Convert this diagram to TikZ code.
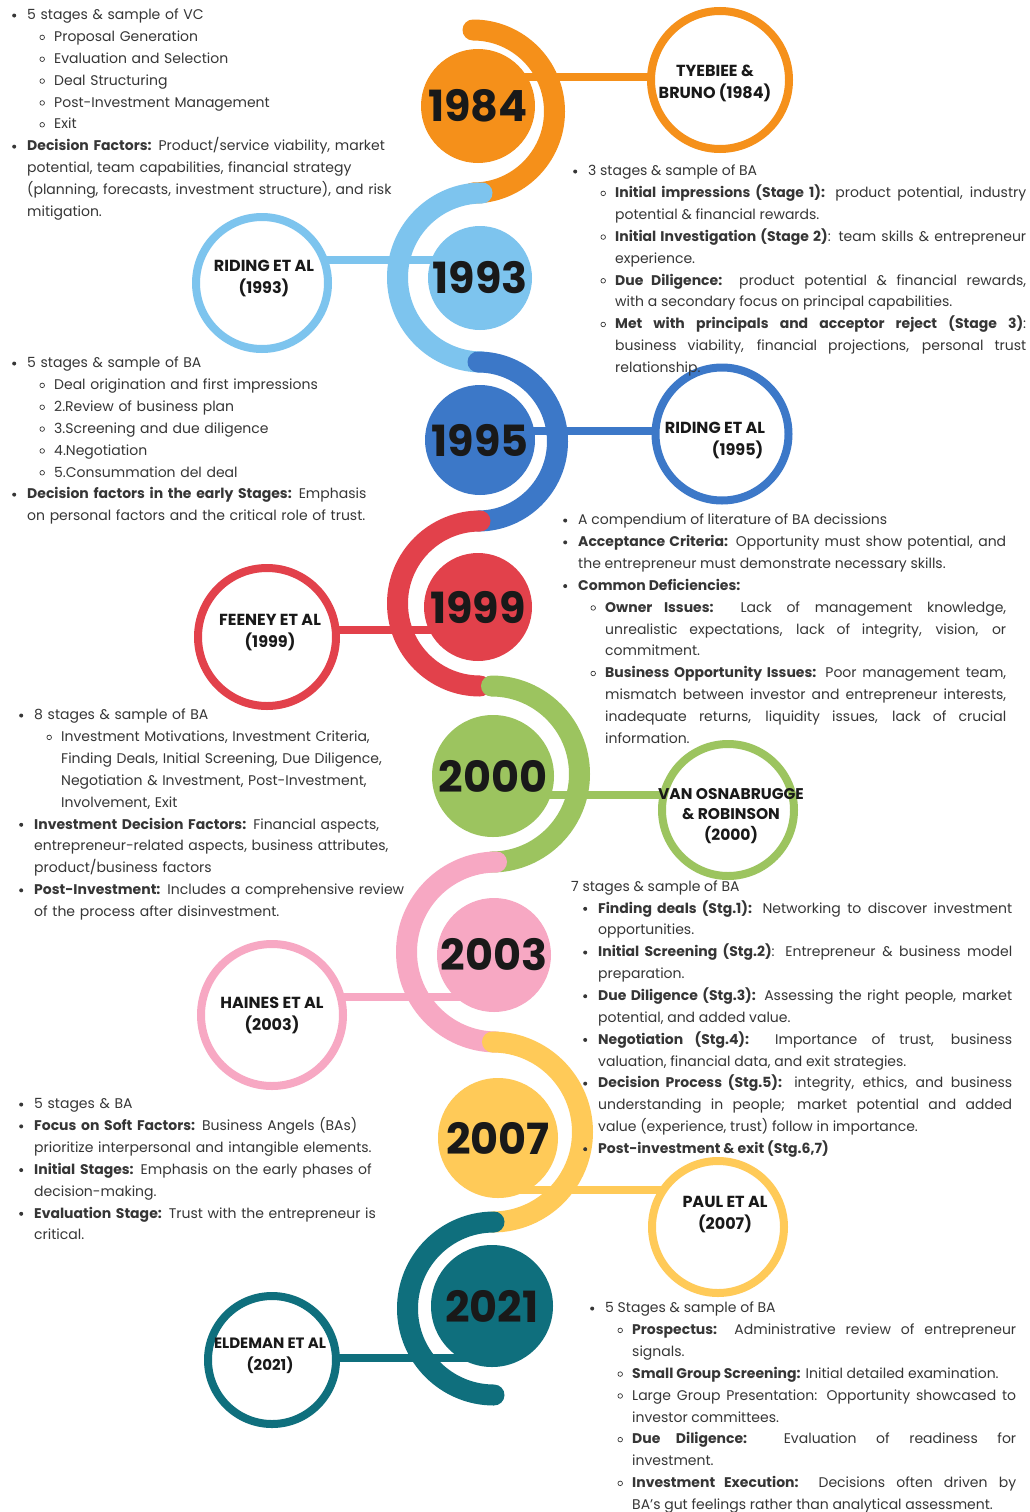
\documentclass[tikz,border=0pt]{standalone}
\usepackage{fontspec}
\setmainfont{Poppins}
\usepackage{enumitem}
\usetikzlibrary{backgrounds}

\definecolor{c84}{HTML}{F5901A}
\definecolor{c93}{HTML}{7DC4EE}
\definecolor{c95}{HTML}{3C78C8}
\definecolor{c99}{HTML}{E2414B}
\definecolor{c00}{HTML}{9CC45F}
\definecolor{c03}{HTML}{F7A8C3}
\definecolor{c07}{HTML}{FFCA58}
\definecolor{c21}{HTML}{0F6F7D}
\definecolor{ink}{HTML}{363636}

\hyphenpenalty=10000
\exhyphenpenalty=10000

\newcommand{\dotmark}{\strut\makebox[0pt][c]{\tikz[baseline=-0.55ex]\fill (0,0) circle (2pt);}}
\newcommand{\ringmark}{\strut\makebox[0pt][c]{\tikz[baseline=-0.55ex]\draw[line width=0.7pt] (0,0) circle (2.3pt);}}
\setlist[itemize,1]{label=\dotmark,leftmargin=13pt,labelwidth=0pt,labelsep=13pt,align=left,topsep=0pt,itemsep=0pt,parsep=0pt,partopsep=0pt}
\setlist[itemize,2]{label=\ringmark,leftmargin=27pt,labelwidth=0pt,labelsep=12pt,align=left,topsep=0pt,itemsep=0pt,parsep=0pt,partopsep=0pt}

\begin{document}
\begin{tikzpicture}[x=1pt,y=-1pt,
  band/.style={line width=21pt,line cap=round},
  link/.style={line width=8pt},
  year/.style={circle,inner sep=0pt,text=black!90,font=\fontsize{43}{43}\selectfont\bfseries},
  author/.style={circle,draw,line width=8pt,fill=white,inner sep=0pt},
  who/.style={align=center,inner sep=0pt,text=black!90,font=\fontsize{16}{22}\selectfont\bfseries},
  notes/.style={anchor=north west,inner sep=0pt,text=ink,font=\fontsize{14}{21.85}\selectfont},
  leftnotes/.style={notes,align=left,text width=420pt},
  rightnotes/.style={notes,align=justify}]
\useasboundingbox (0,0) rectangle (1029,1512);

\draw[band,c84] (473,30) arc[start angle=-90,end angle=90,radius=81.5];
\draw[band,c93] (482,193) arc[start angle=-90,end angle=-270,radius=84.5];
\draw[band,c95] (478,362) arc[start angle=-90,end angle=90,radius=79.5];
\draw[band,c99] (480,521) arc[start angle=-90,end angle=-270,radius=82.5];
\draw[band,c00] (491.5,686) arc[start angle=-90,end angle=90,radius=88];
\draw[band,c03] (496.5,862) arc[start angle=-90,end angle=-270,radius=90];
\draw[band,c07] (492.5,1042) arc[start angle=-90,end angle=90,radius=90];
\draw[band,c21] (494,1222) arc[start angle=-90,end angle=-270,radius=86.5];

\node[year,fill=c84,minimum size=114pt] (y84) at (478,106) {1984};
\node[year,fill=c93,minimum size=104pt] (y93) at (480,278) {1993};
\node[year,fill=c95,minimum size=110pt] (y95) at (480,440) {1995};
\node[year,fill=c99,minimum size=108pt] (y99) at (478,607) {1999};
\node[year,fill=c00,minimum size=122pt] (y00) at (493,776) {2000};
\node[year,fill=c03,minimum size=114pt] (y03) at (494,955) {2003};
\node[year,fill=c07,minimum size=120pt] (y07) at (498,1138) {2007};
\node[year,fill=c21,minimum size=122pt] (y21) at (492,1306) {2021};

\node[author,draw=c84,minimum size=138pt,label={[who,xshift=-5pt,yshift=-3pt]center:TYEBIEE \&\\BRUNO (1984)}] (au84) at (720,80) {};
\node[author,draw=c93,minimum size=132pt,label={[who,xshift=2pt,yshift=5pt]center:RIDING ET AL\\(1993)}] (au93) at (262,283) {};
\node[author,draw=c95,minimum size=133pt,label={[who,align=left,xshift=-7pt,yshift=-6pt]center:RIDING ET AL\\\hspace*{47pt}(1995)}] (au95) at (722,434) {};
\node[author,draw=c99,minimum size=138pt,label={[who,xshift=3pt,yshift=4pt]center:FEENEY ET AL\\(1999)}] (au99) at (267,637) {};
\node[author,draw=c00,minimum size=132pt,label={[who,font=\fontsize{15.5}{20.5}\selectfont\bfseries,xshift=3pt,yshift=-6pt]center:VAN OSNABRUGGE\\\& ROBINSON\\(2000)}] (au00) at (728,810) {};
\node[author,draw=c03,minimum size=142pt,label={[who]center:HAINES ET AL\\(2003)}] (au03) at (272,1015) {};
\node[author,draw=c07,minimum size=132pt,label={[who,xshift=7pt,yshift=12pt]center:PAUL ET AL\\(2007)}] (au07) at (718,1227) {};
\node[author,draw=c21,minimum size=128pt,label={[who,font=\fontsize{15}{22}\selectfont\bfseries,xshift=-2pt,yshift=4pt]center:ELDEMAN ET AL\\(2021)}] (au21) at (272,1360) {};

\begin{scope}[on background layer]
\fill[white] (0,0) rectangle (1029,1512);
\draw[link,c84] ([yshift=29pt]y84.center) -- ([yshift=3pt]au84.center);
\draw[link,c93] ([yshift=18pt]y93.center) -- ([yshift=23pt]au93.center);
\draw[link,c95] ([yshift=9pt]y95.center) -- ([yshift=3pt]au95.center);
\draw[link,c99] ([yshift=-23pt]y99.center) -- ([yshift=7pt]au99.center);
\draw[link,c00] ([yshift=-19pt]y00.center) -- ([yshift=15pt]au00.center);
\draw[link,c03] ([yshift=-42pt]y03.center) -- ([yshift=18pt]au03.center);
\draw[link,c07] ([yshift=-52pt]y07.center) -- ([yshift=37pt]au07.center);
\draw[link,c21] ([yshift=-52pt]y21.center) -- ([yshift=2pt]au21.center);
\end{scope}

\node[leftnotes] (n84) at (14,-2.3) {%
\begin{itemize}
\item 5 stages \& sample of VC
  \begin{itemize}
  \item Proposal Generation
  \item Evaluation and Selection
  \item Deal Structuring
  \item Post-Investment Management
  \item Exit
  \end{itemize}
\item \textbf{Decision Factors:} Product/service viability, market\\
potential, team capabilities, financial strategy\\
(planning, forecasts, investment structure), and risk\\
mitigation.
\end{itemize}};

\node[rightnotes,text width=451pt] (n84b) at (575,153.7) {%
\begin{itemize}
\item 3 stages \& sample of BA
  \begin{itemize}
  \item \textbf{Initial impressions (Stage 1):} product potential, industry\linebreak potential \& financial rewards.
  \item \textbf{Initial Investigation (Stage 2)}: team skills \& entrepreneur\linebreak experience.
  \item \textbf{Due Diligence:} product potential \& financial rewards,\linebreak with a secondary focus on principal capabilities.
  \item \textbf{Met with principals and acceptor reject (Stage 3)}:\linebreak business viability, financial projections, personal trust\linebreak relationship.
  \end{itemize}
\end{itemize}};

\node[leftnotes] (n95) at (14,345.7) {%
\begin{itemize}
\item 5 stages \& sample of BA
  \begin{itemize}
  \item Deal origination and first impressions
  \item 2.Review of business plan
  \item 3.Screening and due diligence
  \item 4.Negotiation
  \item 5.Consummation del deal
  \end{itemize}
\item \textbf{Decision factors in the early Stages:} Emphasis\\
on personal factors and the critical role of trust.
\end{itemize}};

\node[rightnotes,text width=441pt] (n99) at (565,502.7) {%
\begin{itemize}
\item A compendium of literature of BA decissions
\item \textbf{Acceptance Criteria:} Opportunity must show potential, and\linebreak the entrepreneur must demonstrate necessary skills.
\item \textbf{Common Deficiencies:}
  \begin{itemize}
  \item \textbf{Owner Issues:} Lack of management knowledge,\linebreak unrealistic expectations, lack of integrity, vision, or\linebreak commitment.
  \item \textbf{Business Opportunity Issues:} Poor management team,\linebreak mismatch between investor and entrepreneur interests,\linebreak inadequate returns, liquidity issues, lack of crucial\linebreak information.
  \end{itemize}
\end{itemize}};

\node[leftnotes] (n00) at (21,697.7) {%
\begin{itemize}
\item 8 stages \& sample of BA
  \begin{itemize}
  \item Investment Motivations, Investment Criteria,\\
  Finding Deals, Initial Screening, Due Diligence,\\
  Negotiation \& Investment, Post-Investment,\\
  Involvement, Exit
  \end{itemize}
\item \textbf{Investment Decision Factors:} Financial aspects,\\
entrepreneur-related aspects, business attributes,\\
product/business factors
\item \textbf{Post-Investment:} Includes a comprehensive review\\
of the process after disinvestment.
\end{itemize}};

\node[rightnotes,text width=441pt] (n03) at (571,875.7) {%
\strut 7 stages \& sample of BA\par
\begin{itemize}[leftmargin=27pt]
\item \textbf{Finding deals (Stg.1):} Networking to discover investment\linebreak opportunities.
\item \textbf{Initial Screening (Stg.2)}: Entrepreneur \& business model\linebreak preparation.
\item \textbf{Due Diligence (Stg.3):} Assessing the right people, market\linebreak potential, and added value.
\item \textbf{Negotiation (Stg.4):} Importance of trust, business\linebreak valuation, financial data, and exit strategies.
\item \textbf{Decision Process (Stg.5):} integrity, ethics, and business\linebreak understanding in people; market potential and added\linebreak value (experience, trust) follow in importance.
\item \textbf{Post-investment \& exit (Stg.6,7)}
\end{itemize}};

\node[leftnotes] (n07) at (21,1086.7) {%
\begin{itemize}
\item 5 stages \& BA
\item \textbf{Focus on Soft Factors:} Business Angels (BAs)\\
prioritize interpersonal and intangible elements.
\item \textbf{Initial Stages:} Emphasis on the early phases of\\
decision-making.
\item \textbf{Evaluation Stage:} Trust with the entrepreneur is\\
critical.
\end{itemize}};

\node[rightnotes,text width=424pt] (n21) at (592,1290.7) {%
\begin{itemize}
\item 5 Stages \& sample of BA
  \begin{itemize}
  \item \textbf{Prospectus:} Administrative review of entrepreneur\linebreak signals.
  \item \textbf{Small Group Screening:} Initial detailed examination.
  \item Large Group Presentation: Opportunity showcased to\linebreak investor committees.
  \item \textbf{Due Diligence:} Evaluation of readiness for\linebreak investment.
  \item \textbf{Investment Execution:} Decisions often driven by\linebreak BA's gut feelings rather than analytical assessment.
  \end{itemize}
\end{itemize}};
\end{tikzpicture}
\end{document}
